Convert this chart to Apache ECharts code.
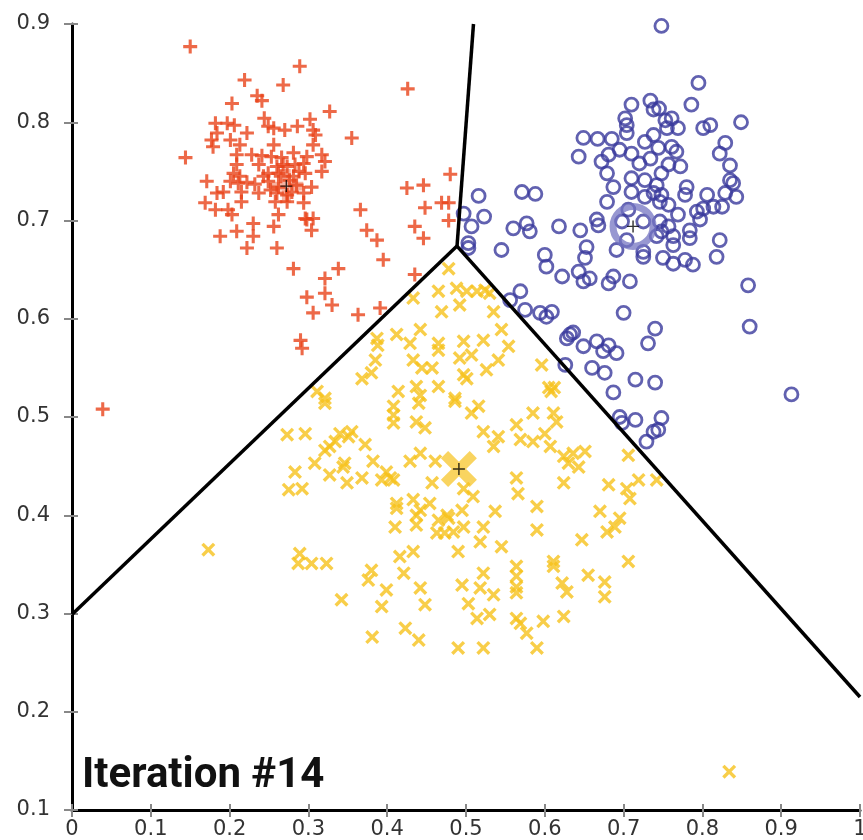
<!DOCTYPE html>
<html>
<head>
<meta charset="UTF-8">
<script src="https://cdn.jsdelivr.net/npm/echarts@6/dist/echarts.min.js"></script>
<style>
    html, body {margin: 0; padding: 0; background: #fff;}
    #main {width: 863px; height: 840px;}
</style>
</head>
<body>
<div id="main"></div>
<script>
    // cluster 1 (red +)
    var redPoints = [
        [0.150,0.877],[0.289,0.857],[0.219,0.843],[0.268,0.838],[0.426,0.834],[0.235,0.827],[0.241,0.822],[0.203,0.819],
        [0.327,0.811],[0.302,0.803],[0.182,0.799],[0.197,0.799],[0.206,0.797],[0.244,0.804],[0.249,0.796],[0.256,0.794],
        [0.270,0.792],[0.286,0.796],[0.306,0.792],[0.309,0.787],[0.222,0.789],[0.184,0.789],[0.177,0.782],[0.201,0.782],
        [0.355,0.784],[0.179,0.775],[0.213,0.777],[0.256,0.777],[0.306,0.777],[0.144,0.764],[0.209,0.767],[0.228,0.767],
        [0.241,0.766],[0.253,0.765],[0.266,0.764],[0.281,0.769],[0.298,0.765],[0.317,0.767],[0.321,0.760],[0.209,0.757],
        [0.237,0.757],[0.260,0.755],[0.273,0.755],[0.283,0.757],[0.294,0.758],[0.317,0.750],[0.205,0.748],[0.213,0.745],
        [0.249,0.748],[0.262,0.748],[0.281,0.745],[0.296,0.748],[0.171,0.740],[0.201,0.740],[0.211,0.738],[0.222,0.739],
        [0.232,0.737],[0.249,0.740],[0.262,0.734],[0.285,0.736],[0.304,0.734],[0.184,0.728],[0.192,0.729],[0.215,0.729],
        [0.237,0.728],[0.260,0.728],[0.273,0.726],[0.294,0.728],[0.169,0.718],[0.182,0.711],[0.198,0.711],[0.215,0.719],
        [0.258,0.719],[0.273,0.719],[0.294,0.718],[0.203,0.706],[0.262,0.706],[0.296,0.702],[0.306,0.702],[0.366,0.711],
        [0.230,0.697],[0.256,0.694],[0.298,0.701],[0.188,0.684],[0.209,0.689],[0.230,0.684],[0.304,0.690],[0.374,0.690],
        [0.387,0.680],[0.222,0.672],[0.260,0.672],[0.425,0.733],[0.446,0.736],[0.448,0.713],[0.435,0.694],[0.446,0.682],
        [0.395,0.660],[0.281,0.651],[0.338,0.651],[0.321,0.641],[0.435,0.645],[0.298,0.622],[0.321,0.626],[0.330,0.614],
        [0.306,0.606],[0.363,0.604],[0.391,0.611],[0.469,0.718],[0.478,0.718],[0.478,0.700],[0.480,0.747],[0.039,0.508],
        [0.290,0.578],[0.292,0.570],[0.265,0.745],[0.276,0.741],[0.288,0.750],[0.252,0.731],[0.279,0.729],[0.243,0.745],
        [0.268,0.757]
    ];

    // cluster 2 (blue o)
    var bluePoints = [
        [0.748,0.898],[0.795,0.840],[0.786,0.818],[0.849,0.800],[0.710,0.818],[0.734,0.822],[0.738,0.813],[0.745,0.814],
        [0.702,0.804],[0.704,0.797],[0.704,0.789],[0.753,0.802],[0.761,0.804],[0.755,0.794],[0.769,0.794],[0.801,0.794],
        [0.810,0.797],[0.649,0.784],[0.667,0.783],[0.685,0.783],[0.643,0.765],[0.672,0.760],[0.681,0.767],[0.695,0.772],
        [0.710,0.768],[0.727,0.780],[0.738,0.787],[0.744,0.774],[0.761,0.775],[0.767,0.770],[0.720,0.758],[0.734,0.763],
        [0.829,0.779],[0.822,0.768],[0.835,0.756],[0.835,0.741],[0.839,0.738],[0.843,0.724],[0.829,0.728],[0.679,0.748],
        [0.687,0.734],[0.679,0.719],[0.710,0.743],[0.710,0.729],[0.727,0.741],[0.742,0.736],[0.748,0.748],[0.757,0.757],
        [0.772,0.755],[0.780,0.734],[0.778,0.726],[0.727,0.724],[0.738,0.728],[0.748,0.726],[0.746,0.719],[0.757,0.716],
        [0.769,0.706],[0.806,0.726],[0.793,0.709],[0.801,0.712],[0.814,0.714],[0.825,0.714],[0.797,0.701],[0.706,0.711],
        [0.698,0.699],[0.725,0.699],[0.746,0.699],[0.757,0.694],[0.784,0.690],[0.784,0.682],[0.763,0.684],[0.763,0.675],
        [0.748,0.689],[0.742,0.684],[0.822,0.680],[0.818,0.663],[0.704,0.680],[0.691,0.670],[0.725,0.668],[0.725,0.663],
        [0.750,0.662],[0.763,0.656],[0.778,0.660],[0.788,0.655],[0.666,0.701],[0.668,0.695],[0.645,0.690],[0.653,0.673],
        [0.651,0.662],[0.618,0.694],[0.577,0.697],[0.581,0.689],[0.560,0.692],[0.571,0.729],[0.588,0.727],[0.516,0.725],
        [0.523,0.704],[0.545,0.670],[0.600,0.665],[0.602,0.653],[0.622,0.643],[0.643,0.648],[0.649,0.638],[0.657,0.641],
        [0.681,0.636],[0.687,0.643],[0.708,0.638],[0.858,0.634],[0.569,0.628],[0.556,0.619],[0.497,0.707],[0.507,0.694],
        [0.503,0.677],[0.503,0.672],[0.575,0.609],[0.594,0.606],[0.602,0.602],[0.609,0.607],[0.700,0.606],[0.860,0.592],
        [0.740,0.590],[0.731,0.575],[0.632,0.584],[0.628,0.580],[0.636,0.586],[0.649,0.572],[0.666,0.577],[0.674,0.567],
        [0.681,0.573],[0.691,0.565],[0.626,0.553],[0.660,0.550],[0.676,0.545],[0.715,0.538],[0.740,0.535],[0.687,0.525],
        [0.913,0.523],[0.695,0.500],[0.698,0.494],[0.715,0.497],[0.748,0.499],[0.744,0.487],[0.738,0.485],[0.729,0.475]
    ];

    // cluster 3 (yellow x)
    var yellowPoints = [
        [0.478,0.651],[0.465,0.628],[0.488,0.631],[0.501,0.628],[0.514,0.628],[0.524,0.629],[0.530,0.626],[0.433,0.621],
        [0.492,0.614],[0.469,0.607],[0.535,0.607],[0.545,0.589],[0.442,0.589],[0.412,0.584],[0.387,0.580],[0.388,0.573],
        [0.429,0.575],[0.465,0.575],[0.465,0.568],[0.497,0.577],[0.522,0.578],[0.554,0.572],[0.433,0.558],[0.385,0.558],
        [0.444,0.550],[0.457,0.550],[0.492,0.560],[0.507,0.563],[0.541,0.558],[0.526,0.548],[0.497,0.543],[0.501,0.539],
        [0.368,0.539],[0.380,0.545],[0.465,0.531],[0.437,0.531],[0.442,0.522],[0.414,0.526],[0.486,0.519],[0.311,0.526],
        [0.321,0.519],[0.596,0.553],[0.605,0.530],[0.612,0.530],[0.608,0.526],[0.321,0.514],[0.408,0.511],[0.408,0.502],
        [0.408,0.494],[0.440,0.514],[0.486,0.516],[0.507,0.504],[0.516,0.511],[0.437,0.495],[0.448,0.489],[0.585,0.504],
        [0.611,0.504],[0.615,0.495],[0.564,0.492],[0.522,0.485],[0.541,0.480],[0.535,0.470],[0.569,0.477],[0.585,0.475],
        [0.600,0.483],[0.607,0.470],[0.624,0.460],[0.636,0.463],[0.651,0.465],[0.630,0.453],[0.643,0.449],[0.624,0.433],
        [0.681,0.431],[0.704,0.427],[0.708,0.417],[0.719,0.436],[0.742,0.436],[0.706,0.461],[0.670,0.404],[0.695,0.397],
        [0.679,0.383],[0.689,0.388],[0.647,0.375],[0.706,0.353],[0.655,0.339],[0.676,0.332],[0.676,0.317],[0.622,0.331],
        [0.628,0.322],[0.611,0.353],[0.611,0.348],[0.590,0.409],[0.590,0.385],[0.564,0.438],[0.566,0.422],[0.537,0.404],
        [0.522,0.388],[0.518,0.373],[0.545,0.368],[0.490,0.363],[0.497,0.388],[0.484,0.383],[0.473,0.382],[0.463,0.382],
        [0.476,0.400],[0.478,0.397],[0.465,0.395],[0.495,0.405],[0.509,0.419],[0.497,0.427],[0.457,0.433],[0.454,0.412],
        [0.437,0.400],[0.437,0.390],[0.433,0.416],[0.442,0.405],[0.412,0.412],[0.412,0.407],[0.410,0.388],[0.408,0.436],
        [0.399,0.444],[0.404,0.438],[0.393,0.436],[0.429,0.455],[0.442,0.463],[0.461,0.455],[0.382,0.455],[0.368,0.438],
        [0.349,0.433],[0.346,0.453],[0.372,0.472],[0.327,0.470],[0.334,0.475],[0.340,0.483],[0.351,0.480],[0.355,0.485],
        [0.321,0.466],[0.308,0.453],[0.327,0.441],[0.344,0.449],[0.273,0.482],[0.296,0.483],[0.283,0.444],[0.275,0.426],
        [0.292,0.427],[0.289,0.361],[0.287,0.351],[0.304,0.351],[0.323,0.351],[0.342,0.314],[0.380,0.344],[0.376,0.334],
        [0.399,0.324],[0.393,0.307],[0.416,0.358],[0.433,0.363],[0.421,0.341],[0.442,0.326],[0.448,0.309],[0.423,0.285],
        [0.440,0.273],[0.381,0.276],[0.490,0.265],[0.522,0.265],[0.495,0.329],[0.503,0.310],[0.514,0.295],[0.530,0.299],
        [0.518,0.326],[0.522,0.341],[0.535,0.319],[0.564,0.348],[0.564,0.338],[0.564,0.327],[0.564,0.321],[0.564,0.295],
        [0.569,0.290],[0.577,0.280],[0.590,0.265],[0.598,0.292],[0.624,0.297],[0.173,0.365],[0.834,0.139]
    ];

    // centroids after iteration 14
    var redCentroid = [0.272, 0.735];
    var blueCentroid = [0.712, 0.694];
    var yellowCentroid = [0.491, 0.447];

    // voronoi boundaries
    var boundaryLeft = [[0, 0.299], [0.4886, 0.674]];
    var boundaryTop = [[0.4886, 0.674], [0.5095, 0.9]];
    var boundaryRight = [[0.4886, 0.674], [1, 0.215]];

    var plusPath = 'path://M0,3.9H10V6.1H0Z M3.9,0H6.1V10H3.9Z';
    var bigPlusPath = 'path://M0,3.7H10V6.3H0Z M3.7,0H6.3V10H3.7Z';
    var thinPlusPath = 'path://M0,4.4H10V5.6H0Z M4.4,0H5.6V10H4.4Z';
    var xPath = 'path://M0,1.7L1.7,0L10,8.3L8.3,10Z M8.3,0L10,1.7L1.7,10L0,8.3Z';
    var bigXPath = 'path://M0,2L2,0L10,8L8,10Z M8,0L10,2L2,10L0,8Z';

    var red = '#e8431a';
    var blue = '#3a3a9c';
    var yellow = '#f6c21c';

    var chart = echarts.init(document.getElementById('main'));

    function lineSeries(data) {
        return {
            type: 'line',
            data: data,
            showSymbol: false,
            symbol: 'none',
            lineStyle: {color: '#000', width: 3.5},
            z: 5,
            silent: true
        };
    }

    var option = {
        animation: false,
        backgroundColor: '#fff',
        grid: {left: 72, right: 3, top: 24, bottom: 30, containLabel: false, outerBoundsMode: 'none'},
        xAxis: [{
            type: 'value',
            min: 0, max: 1, interval: 0.1,
            splitLine: {show: false},
            axisLine: {onZero: false, lineStyle: {color: '#000', width: 3}},
            axisTick: {length: 7, lineStyle: {color: '#888', width: 2}},
            axisLabel: {color: '#333', fontSize: 21, fontFamily: 'DejaVu Sans', margin: 9}
        }, {
            type: 'value', position: 'bottom',
            min: 0, max: 1, interval: 0.1,
            splitLine: {show: false},
            axisLine: {show: false, onZero: false},
            axisTick: {inside: true, length: 6, lineStyle: {color: '#888', width: 2}},
            axisLabel: {show: false}
        }],
        yAxis: [{
            type: 'value',
            min: 0.1, max: 0.9, interval: 0.1,
            splitLine: {show: false},
            axisLine: {onZero: false, lineStyle: {color: '#000', width: 3}},
            axisTick: {length: 8, lineStyle: {color: '#888', width: 2}},
            axisLabel: {color: '#333', fontSize: 21, fontFamily: 'DejaVu Sans', margin: 22}
        }, {
            type: 'value', position: 'left',
            min: 0.1, max: 0.9, interval: 0.1,
            splitLine: {show: false},
            axisLine: {show: false, onZero: false},
            axisTick: {inside: true, length: 6, lineStyle: {color: '#888', width: 2}},
            axisLabel: {show: false}
        }],
        graphic: [{
            type: 'text',
            left: 82,
            top: 755,
            style: {text: 'Iteration #14', font: 'bold 42px Roboto', fill: '#111'}
        }],
        series: [
            {
                type: 'scatter', data: redPoints, symbol: plusPath, symbolSize: 14,
                itemStyle: {color: red}, z: 2
            },
            {
                type: 'scatter', data: bluePoints, symbol: 'circle', symbolSize: 13,
                itemStyle: {color: 'rgba(0,0,0,0)', borderColor: blue, borderWidth: 2.8}, z: 2
            },
            {
                type: 'scatter', data: yellowPoints, symbol: xPath, symbolSize: 14,
                itemStyle: {color: yellow}, z: 2
            },
            {
                type: 'scatter', data: [redCentroid], symbol: bigPlusPath, symbolSize: 34,
                itemStyle: {color: red, opacity: 0.4}, z: 3
            },
            {
                type: 'scatter', data: [blueCentroid], symbol: 'circle', symbolSize: 40,
                itemStyle: {color: 'rgba(0,0,0,0)', borderColor: '#7474c2', borderWidth: 7, opacity: 0.75}, z: 3
            },
            {
                type: 'scatter', data: [yellowCentroid], symbol: bigXPath, symbolSize: 36,
                itemStyle: {color: yellow, opacity: 0.7}, z: 3
            },
            lineSeries(boundaryLeft),
            lineSeries(boundaryTop),
            lineSeries(boundaryRight),
            {
                type: 'scatter', data: [redCentroid, blueCentroid, yellowCentroid],
                symbol: thinPlusPath, symbolSize: 12,
                itemStyle: {color: '#000'}, z: 6
            }
        ]
    };
    chart.setOption(option);
</script>
</body>
</html>
